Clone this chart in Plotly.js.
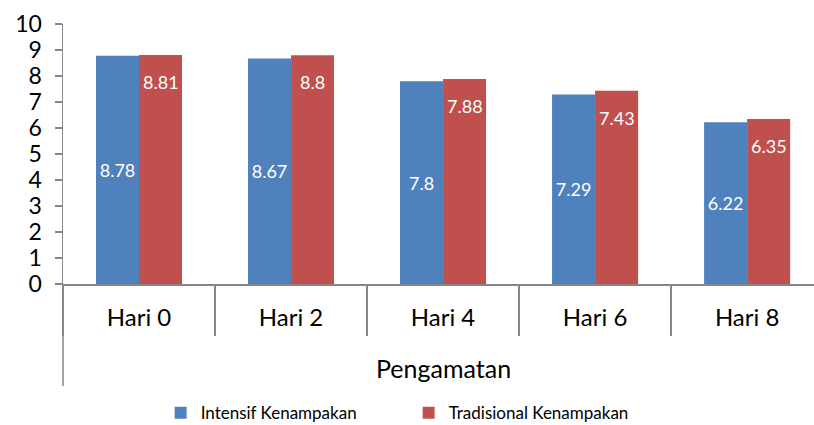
<!DOCTYPE html>
<html>
<head>
<meta charset="utf-8">
<script src="https://cdn.plot.ly/plotly-3.0.1.min.js"></script>
<style>html,body{margin:0;padding:0;background:#fff;}#chart{width:814px;height:425px;}</style>
</head>
<body>
<div id="chart"></div>
<script>
const categories = ["Hari 0", "Hari 2", "Hari 4", "Hari 6", "Hari 8"];
const intensif = [8.78, 8.67, 7.8, 7.29, 6.22];
const tradisional = [8.81, 8.8, 7.88, 7.43, 6.35];
const seriesNames = ["Intensif Kenampakan", "Tradisional Kenampakan"];
const yTicks = [0,1,2,3,4,5,6,7,8,9,10];

const FONT = "Lato, 'Open Sans', sans-serif";
const AXIS = "#868686";

const traces = [
  {
    type: "bar", name: seriesNames[0], x: categories, y: intensif,
    marker: {color: "#4F81BD"},
    text: intensif.map(String), textposition: "inside", insidetextanchor: "middle",
    textangle: 0, textfont: {family: FONT, size: 18, color: "#ffffff"},
    hoverinfo: "x+y"
  },
  {
    type: "bar", name: seriesNames[1], x: categories, y: tradisional,
    marker: {color: "#C0504D"},
    hoverinfo: "x+y"
  }
];

const annotations = categories.map((c, i) => ({
  x: c, y: tradisional[i], xref: "x", yref: "y",
  text: String(tradisional[i]), showarrow: false,
  xshift: 21.5, yshift: -27, yanchor: "middle", xanchor: "center",
  font: {family: FONT, size: 18, color: "#ffffff"}
}));
annotations.push({
  x: categories[2], y: 0, xref: "x", yref: "y", yanchor: "middle",
  text: "Pengamatan", showarrow: false, yshift: -84,
  font: {family: FONT, size: 25, color: "#000000"}
});

const layout = {
  width: 814, height: 425,
  margin: {l: 63, r: 0, t: 24, b: 141, autoexpand: false},
  paper_bgcolor: "#ffffff", plot_bgcolor: "#ffffff",
  barmode: "group", bargap: 0.434, bargroupgap: 0,
  font: {family: FONT, color: "#000000"},
  xaxis: {
    type: "category", range: [-0.5, 4.44], automargin: false,
    showline: true, linecolor: AXIS, linewidth: 1.5,
    ticks: "outside", tickson: "boundaries", ticklen: 50, tickcolor: AXIS, tickwidth: 1.5,
    tickfont: {family: FONT, size: 24, color: "#000000"},
    ticklabelstandoff: 12,
    showgrid: false, zeroline: false, fixedrange: true
  },
  yaxis: {
    range: [0, 10], tickvals: yTicks, ticktext: yTicks.map(String), automargin: false,
    showline: true, linecolor: AXIS, linewidth: 1.5,
    ticks: "outside", ticklen: 7, tickcolor: AXIS, tickwidth: 1.5,
    tickfont: {family: FONT, size: 23, color: "#000000"},
    ticklabelstandoff: 8,
    showgrid: false, zeroline: false, fixedrange: true
  },
  shapes: [{
    type: "line", xref: "paper", yref: "paper", x0: 0, x1: 0, y0: 0, y1: -102/260,
    line: {color: AXIS, width: 1.5}
  }],
  annotations: annotations,
  showlegend: true,
  legend: {
    orientation: "h", x: 0.13, xanchor: "left", y: -0.497, yanchor: "middle",
    font: {family: FONT, size: 17, color: "#000000"},
    itemwidth: 30, entrywidth: 203, traceorder: "normal"
  }
};

Plotly.newPlot("chart", traces, layout, {displayModeBar: false, staticPlot: true});
</script>
</body>
</html>
